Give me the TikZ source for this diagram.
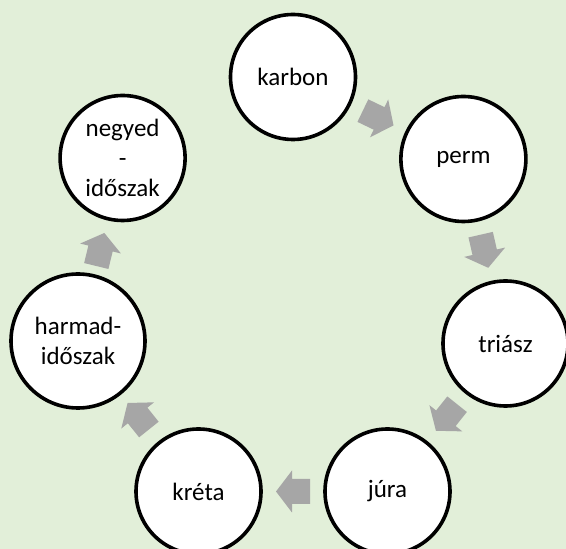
\documentclass[tikz,border=0pt]{standalone}
\usepackage{fontspec}
\setmainfont{Carlito}
\definecolor{bggreen}{HTML}{E2EFD9}
\definecolor{arrowgray}{HTML}{A6A6A6}
\tikzset{
  era/.style={circle, draw=black, line width=3.6pt, fill=white, minimum size=125pt, inner sep=0pt, align=center, font=\fontsize{25}{30}\selectfont},
  blockarrow/.pic={\fill[arrowgray] (-17,-12.5) -- (1,-12.5) -- (1,-21) -- (17,0) -- (1,21) -- (1,12.5) -- (-17,12.5) -- cycle;},
  onchord/.style={midway, sloped, allow upside down}
}
\begin{document}
\begin{tikzpicture}[x=1pt,y=1pt]
\fill[bggreen] (0,0) rectangle (566,549);
\useasboundingbox (0,0) rectangle (566,549);
\node[era] (karbon) at (293,472) {karbon};
\node[era] (perm) at (463.4,390) {perm};
\node[era] (triasz) at (505.5,205.5) {triász};
\node[era] (jura) at (387.5,57.5) {júra};
\node[era] (kreta) at (198.5,57.5) {kréta};
\node[era, minimum size=134pt] (harmad) at (78,208) {harmad-\\időszak};
\node[era] (negyed) at (122.6,391) {negyed\\-\\időszak};
\path (karbon.center) -- (perm.center) pic[onchord]{blockarrow};
\path (perm.center) -- (triasz.center) pic[onchord]{blockarrow};
\path (triasz.center) -- (jura.center) pic[onchord]{blockarrow};
\path (jura.center) -- (kreta.center) pic[onchord]{blockarrow};
\path (kreta.center) -- (harmad.center) pic[onchord]{blockarrow};
\path (harmad.center) -- (negyed.center) pic[onchord]{blockarrow};
\end{tikzpicture}
\end{document}
